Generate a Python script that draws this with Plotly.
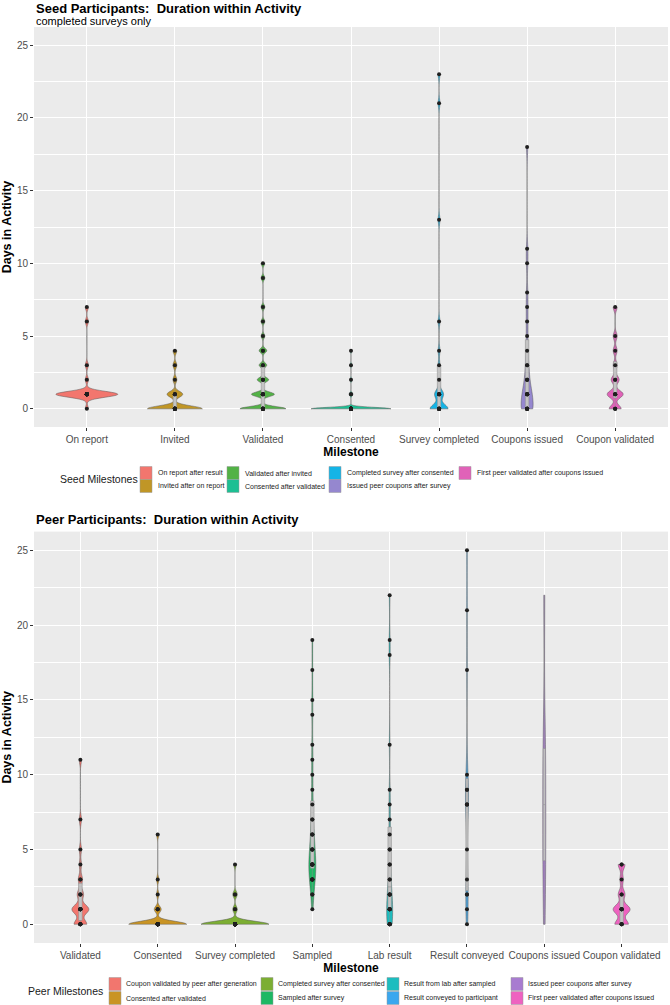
import numpy as np
import plotly.graph_objects as go

# ---------------- data: days spent in each activity (value / how many) ----------------
seed_categories = ["On report", "Invited", "Validated", "Consented",
                   "Survey completed", "Coupons issued", "Coupon validated"]
seed_names = ["On report after result", "Invited after on report",
              "Validated after invited", "Consented after validated",
              "Completed survey after consented", "Issued peer coupons after survey",
              "First peer validated after coupons issued"]
seed_days = [
    [0, 1, 2, 3, 6, 7],
    [0, 1, 2, 3, 4],
    [0, 1, 2, 3, 4, 5, 6, 7, 9, 10],
    [0, 1, 2, 3, 4],
    [0, 1, 2, 3, 4, 6, 13, 21, 23],
    [0, 1, 2, 3, 4, 5, 6, 7, 8, 10, 11, 18],
    [0, 1, 2, 3, 4, 5, 7],
]
seed_counts = [
    [1, 20, 1, 1, 1, 1],
    [14, 4, 1, 1, 1],
    [12, 6, 3, 2, 2, 1, 1, 1, 1, 1],
    [40, 2, 1, 1, 1],
    [10, 5, 1, 1, 1, 1, 1, 1, 1],
    [8, 6, 3, 2, 1, 1, 1, 1, 1, 1, 1, 1],
    [3, 4, 2, 1, 1, 1, 1],
]

peer_categories = ["Validated", "Consented", "Survey completed", "Sampled",
                   "Lab result", "Result conveyed", "Coupons issued", "Coupon validated"]
peer_names = ["Coupon validated by peer after generation", "Consented after validated",
              "Completed survey after consented", "Sampled after survey",
              "Result from lab after sampled", "Result conveyed to participant",
              "Issued peer coupons after survey", "First peer validated after coupons issued"]
peer_days = [
    [0, 1, 2, 3, 4, 5, 7, 11],
    [0, 1, 2, 3, 6],
    [0, 1, 2, 4],
    [1, 2, 3, 4, 5, 6, 7, 8, 9, 10, 11, 12, 14, 15, 17, 19],
    [0, 1, 2, 3, 4, 5, 6, 7, 8, 9, 12, 18, 19, 22],
    [0, 1, 2, 3, 5, 8, 9, 10, 17, 21, 25],
    [0, 4, 5, 8, 11, 12, 22],
    [0, 1, 2, 3, 4],
]
peer_counts = [
    [6, 8, 3, 2, 1, 1, 1, 1],
    [25, 3, 1, 1, 1],
    [30, 2, 2, 1],
    [1, 2, 5, 7, 4, 3, 2, 1, 1, 1, 1, 1, 1, 1, 1, 1],
    [5, 5, 4, 2, 2, 2, 1, 1, 1, 1, 1, 1, 1, 1],
    [1, 1, 2, 1, 1, 3, 2, 1, 1, 1, 1],
    [1, 1, 1, 1, 1, 1, 1],
    [4, 5, 2, 1, 2],
]

# ---------------- styling ----------------
seed_colors = ["#F2766E", "#C09626", "#52B246", "#1DBF93", "#14B4E6", "#9587CF", "#E062B8"]
peer_colors = ["#F2766E", "#C99424", "#7CAE33", "#1DB864", "#1CBDBF", "#3AA7EE", "#A87CD0", "#EE62C0"]
seed_width_px = [62, 55, 46, 80, 18, 12, 16]
peer_width_px = [17, 58, 68, 7, 6, 3, 3, 17]
seed_bw = [0.2, 0.2, 0.15, 0.1, 0.3, 0.6, 0.25]
peer_bw = [0.3, 0.2, 0.2, 0.9, 0.8, 1.5, 3.0, 0.3]
peer_points = [True, True, True, True, True, True, False, True]

FONT = "Liberation Sans"
FIG_W, FIG_H = 670, 1005
M_L, M_R = 34, 2
PLOT_W = FIG_W - M_L - M_R


def px_x(px):
    return (px - M_L) / PLOT_W


def px_y(py):
    return 1 - py / FIG_H


fig = go.Figure()


def add_panel(cats, names, days, counts, colors, width_px, bws, xa, ya, pts):
    unit = PLOT_W / (len(cats) + 0.2)
    for i, cat in enumerate(cats):
        vals = np.repeat(days[i], counts[i])
        wpx = width_px[i]
        fig.add_trace(go.Violin(
            x=[cat] * len(vals), y=vals, name=names[i],
            xaxis=xa, yaxis=ya,
            width=wpx / unit, bandwidth=bws[i],
            scalemode="width", spanmode="hard", side="both",
            fillcolor=colors[i], line=dict(color="#595959", width=0.5),
            box=dict(visible=True, width=min(0.7, 3.5 / wpx), fillcolor="#C4C4C4",
                     line=dict(color="#8C8C8C", width=0.5)),
            points="all" if pts[i] else False, pointpos=0, jitter=0,
            marker=dict(size=4, color="#1F1F1F"),
            showlegend=False, hoverinfo="y",
        ))


add_panel(seed_categories, seed_names, seed_days, seed_counts, seed_colors,
          seed_width_px, seed_bw, "x", "y", [True] * len(seed_categories))
add_panel(peer_categories, peer_names, peer_days, peer_counts, peer_colors,
          peer_width_px, peer_bw, "x2", "y2", peer_points)

tickfont = dict(family=FONT, size=10, color="#4D4D4D")
titlefont = dict(family=FONT, size=12, color="#000000", weight="bold")


def xaxis(cats, anchor):
    return dict(
        anchor=anchor, domain=[0, 1], type="category",
        categoryorder="array", categoryarray=cats,
        range=[-0.6, len(cats) - 0.4],
        showgrid=True, gridcolor="white", gridwidth=1.2,
        zeroline=False, showline=False,
        ticks="outside", ticklen=3, tickcolor="#333333", tickwidth=1,
        tickfont=tickfont,
        title=dict(text="Milestone", font=titlefont, standoff=2),
    )


def yaxis(anchor, top, bottom):
    return dict(
        anchor=anchor, domain=[px_y(bottom), px_y(top)],
        range=[-1.25, 26.25], tick0=0, dtick=5,
        showgrid=True, gridcolor="white", gridwidth=1.2,
        minor=dict(tick0=0, dtick=2.5, showgrid=True, gridcolor="white", gridwidth=0.6),
        zeroline=False, showline=False,
        ticks="outside", ticklen=3, tickcolor="#333333", tickwidth=1,
        tickfont=tickfont,
        title=dict(text="Days in Activity", font=dict(titlefont, size=12.5), standoff=4),
    )


annotations = [
    dict(text="<b>Seed Participants:  Duration within Activity</b>", x=px_x(34), y=px_y(8),
         font=dict(family=FONT, size=13, color="#000000")),
    dict(text="completed surveys only", x=px_x(34), y=px_y(21),
         font=dict(family=FONT, size=11, color="#000000")),
    dict(text="<b>Peer Participants:  Duration within Activity</b>", x=px_x(34), y=px_y(519),
         font=dict(family=FONT, size=13, color="#000000")),
]
shapes = []


def add_legend(title, title_x, names, colors, cols, rows, text_dx):
    annotations.append(dict(text=title, x=px_x(title_x), y=px_y(sum(rows) / 2),
                            font=dict(family=FONT, size=10.5, color="#1A1A1A")))
    for i, name in enumerate(names):
        cx, cy = cols[i // 2], rows[i % 2]
        shapes.append(dict(type="rect", xref="paper", yref="paper",
                           x0=px_x(cx), x1=px_x(cx + 12),
                           y0=px_y(cy + 6.5), y1=px_y(cy - 6.5),
                           fillcolor=colors[i], line=dict(color="#9A9A9A", width=0.5)))
        annotations.append(dict(text=name, x=px_x(cx + text_dx), y=px_y(cy),
                                font=dict(family=FONT, size=7, color="#1A1A1A")))


add_legend("Seed Milestones", 58, seed_names, seed_colors,
           [140, 227, 329, 459], [473, 486], 16)
add_legend("Peer Milestones", 26, peer_names, peer_colors,
           [109, 261, 387, 511], [984, 998], 15)

for a in annotations:
    a.update(xref="paper", yref="paper", xanchor="left", yanchor="middle",
             showarrow=False, align="left")

fig.update_layout(
    width=FIG_W, height=FIG_H,
    margin=dict(l=M_L, r=M_R, t=0, b=0),
    paper_bgcolor="white", plot_bgcolor="#EBEBEB",
    violinmode="overlay", showlegend=False,
    font=dict(family=FONT, color="#1A1A1A"),
    xaxis=xaxis(seed_categories, "y"),
    yaxis=yaxis("x", 27, 427),
    xaxis2=xaxis(peer_categories, "y2"),
    yaxis2=yaxis("x2", 531.6, 943),
    annotations=annotations,
    shapes=shapes,
)

# the page's default 8px body margin would push the figure off the window edge
fig.write_html("out.html", config={"displayModeBar": False},
               post_script="document.body.style.margin = '0';")
